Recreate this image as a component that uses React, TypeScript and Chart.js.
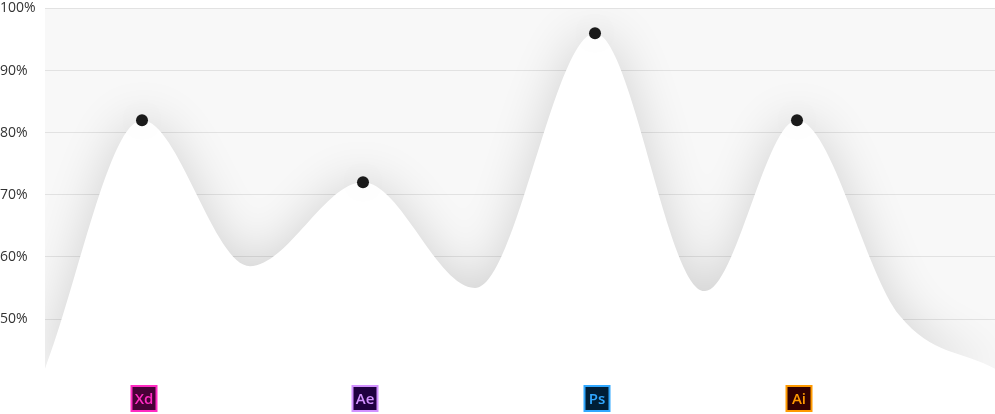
import React, { useRef, useEffect } from 'react';
import { Chart, registerables } from 'chart.js';

Chart.register(...registerables);

const xPos = [45, 142, 250, 363, 475, 595, 705, 797, 900, 995];
const values = [42, 82, 58.5, 72, 55, 96, 54.5, 82, 50.5, 42];
const isPeak = [false, true, false, true, false, true, false, true, false, false];
const apps = ['Xd', 'Ae', 'Ps', 'Ai'];
const appFg = ['#ff2bc2', '#d291ff', '#31a8ff', '#ff9a00'];
const appBg = ['#470137', '#1f0040', '#001e36', '#330000'];
const yTicks = [50, 60, 70, 80, 90, 100];

const bgPlugin = {
  id: 'bg',
  beforeDraw(chart: any) {
    const { ctx, chartArea: a } = chart;
    ctx.save();
    ctx.fillStyle = '#f8f8f8';
    ctx.fillRect(a.left, a.top, a.right - a.left, a.bottom - a.top);
    ctx.restore();
  },
  beforeDatasetsDraw(chart: any) {
    const ctx = chart.ctx;
    ctx.save();
    ctx.shadowColor = 'rgba(0,0,0,0.16)';
    ctx.shadowBlur = 50;
  },
  afterDatasetsDraw(chart: any) {
    chart.ctx.restore();
  },
  afterDraw(chart: any) {
    const { ctx } = chart;
    const xs = chart.scales.x;
    const peaks = xPos.filter((_, i) => isPeak[i]);
    peaks.forEach((p, i) => {
      const cx = xs.getPixelForValue(p) + 2;
      const s = 27, top = 385;
      ctx.save();
      ctx.fillStyle = appFg[i];
      ctx.fillRect(cx - s / 2, top, s, s);
      ctx.fillStyle = appBg[i];
      ctx.fillRect(cx - s / 2 + 2, top + 2, s - 4, s - 4);
      ctx.fillStyle = appFg[i];
      ctx.font = '600 15px "Open Sans", sans-serif';
      ctx.textAlign = 'center';
      ctx.textBaseline = 'middle';
      ctx.fillText(apps[i], cx, top + s / 2 + 1);
      ctx.restore();
    });
  },
};

export default function App() {
  const ref = useRef<HTMLCanvasElement>(null);
  useEffect(() => {
    if (!ref.current) return;
    const chart = new Chart(ref.current, {
      type: 'line',
      data: {
        datasets: [{
          data: xPos.map((x, i) => ({ x, y: values[i] })),
          fill: 'start',
          backgroundColor: '#ffffff',
          borderWidth: 0,
          borderColor: 'rgba(0,0,0,0)',
          cubicInterpolationMode: 'monotone',
          pointRadius: isPeak.map(p => (p ? 6 : 0)),
          pointBackgroundColor: '#1a1a1a',
          pointBorderWidth: 0,
        }],
      },
      options: {
        animation: false,
        responsive: true,
        maintainAspectRatio: false,
        layout: { padding: { top: 8, bottom: 44, right: 0 } },
        plugins: { legend: { display: false }, tooltip: { enabled: false } },
        scales: {
          x: { type: 'linear', min: 45, max: 995, display: false },
          y: {
            min: 41.8, max: 100,
            afterBuildTicks: (s: any) => { s.ticks = yTicks.map(v => ({ value: v })); },
            afterFit: (s: any) => { s.width = 45; },
            border: { display: false },
            grid: { color: '#e2e2e2', drawTicks: false },
            ticks: {
              crossAlign: 'far', padding: 0, color: '#333',
              font: { family: '"Open Sans", sans-serif', size: 14 },
              callback: (v: any) => v + '%',
            },
          },
        },
      },
      plugins: [bgPlugin],
    });
    return () => chart.destroy();
  }, []);
  return (
    <div style={{ position: 'fixed', left: 0, top: 0, width: 995, height: 414, background: '#fff' }}>
      <canvas ref={ref} />
    </div>
  );
}
